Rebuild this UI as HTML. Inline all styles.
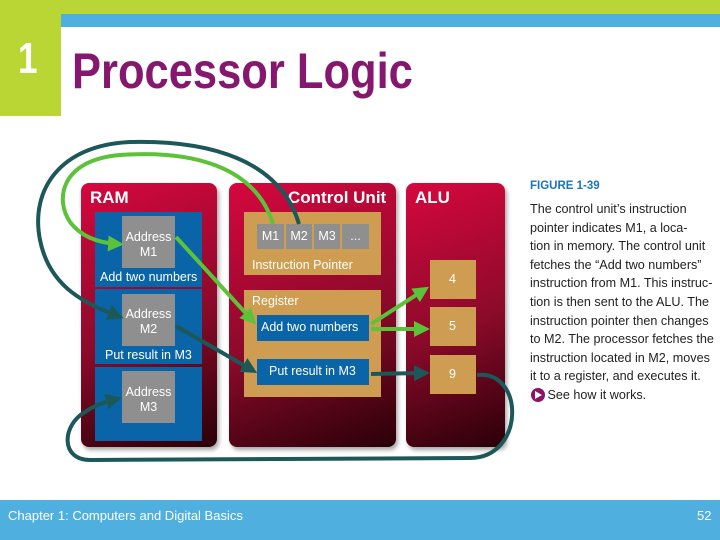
<!DOCTYPE html>
<html><head><meta charset="utf-8"><style>
body{margin:0;width:720px;height:540px;position:relative;background:#fff;font-family:"Liberation Sans",sans-serif;overflow:hidden}
.a{position:absolute}
.col{position:absolute;border-radius:8px;background:linear-gradient(160deg,#d6073e 0%,#8a0a2a 55%,#2a0008 100%);box-shadow:2px 3px 4px rgba(0,0,0,.35)}
.h{position:absolute;color:#fff;font-weight:bold;font-size:17px}
.blue{position:absolute;background:#0a64a8}
.gray{position:absolute;background:#8f8f8f;color:#fff;font-size:12.5px;text-align:center;line-height:15px;box-sizing:border-box}
.gold{position:absolute;background:#cf9d52}
.t{position:absolute;color:#fff;font-size:12.5px;white-space:nowrap}
.txt{position:absolute;left:530px;top:200px;font-size:12.6px;line-height:18.6px;color:#222;white-space:nowrap}
</style></head><body>
<div class="a" style="left:0;top:0;width:720px;height:14px;background:#b9d635"></div>
<div class="a" style="left:61px;top:14px;width:659px;height:13px;background:#4fb0e0"></div>
<div class="a" style="left:0;top:0;width:61px;height:116px;background:#b9d635"></div>
<div class="a" style="left:18px;top:34px;color:#fff;font-size:44px;font-weight:bold;transform:scaleX(0.8);transform-origin:0 0">1</div>
<div class="a" style="left:72px;top:42px;color:#86176e;font-size:50px;font-weight:bold;white-space:nowrap;transform:scaleX(0.87);transform-origin:0 0">Processor Logic</div>

<div class="col" style="left:81px;top:183px;width:136px;height:264px"></div>
<div class="col" style="left:229px;top:183px;width:167px;height:264px"></div>
<div class="col" style="left:406px;top:183px;width:99px;height:264px"></div>
<div class="h" style="left:90px;top:188px">RAM</div>
<div class="h" style="left:288px;top:188px">Control Unit</div>
<div class="h" style="left:415px;top:188px">ALU</div>

<div class="blue" style="left:95px;top:212px;width:107px;height:75px"></div>
<div class="blue" style="left:95px;top:289px;width:107px;height:75px"></div>
<div class="blue" style="left:95px;top:367px;width:107px;height:74px"></div>
<div class="gray" style="left:122px;top:216px;width:53px;height:52px;padding-top:14px">Address<br>M1</div>
<div class="gray" style="left:122px;top:294px;width:53px;height:52px;padding-top:13px">Address<br>M2</div>
<div class="gray" style="left:122px;top:371px;width:53px;height:52px;padding-top:14px">Address<br>M3</div>
<div class="t" style="left:100px;top:270px">Add two numbers</div>
<div class="t" style="left:105px;top:348px">Put result in M3</div>

<div class="gold" style="left:244px;top:212px;width:137px;height:63px"></div>
<div class="gray" style="left:257px;top:224px;width:27px;height:25px;padding-top:5px">M1</div>
<div class="gray" style="left:286px;top:224px;width:26px;height:25px;padding-top:5px">M2</div>
<div class="gray" style="left:314px;top:224px;width:26px;height:25px;padding-top:5px">M3</div>
<div class="gray" style="left:342px;top:224px;width:27px;height:25px;padding-top:5px">...</div>
<div class="t" style="left:252px;top:258px">Instruction Pointer</div>
<div class="gold" style="left:244px;top:290px;width:137px;height:107px"></div>
<div class="t" style="left:252px;top:294px">Register</div>
<div class="blue" style="left:257px;top:315px;width:112px;height:26px"></div>
<div class="t" style="left:261px;top:320px">Add two numbers</div>
<div class="blue" style="left:257px;top:359px;width:112px;height:26px"></div>
<div class="t" style="left:269px;top:364px">Put result in M3</div>

<div class="gold" style="left:430px;top:260px;width:46px;height:39px"></div>
<div class="gold" style="left:430px;top:307px;width:46px;height:39px"></div>
<div class="gold" style="left:430px;top:355px;width:46px;height:39px"></div>
<div class="t" style="left:449px;top:272px">4</div>
<div class="t" style="left:449px;top:319px">5</div>
<div class="t" style="left:449px;top:367px">9</div>

<svg class="a" style="left:0;top:0" width="720" height="540">
<defs>
<marker id="g" markerWidth="4" markerHeight="4" refX="2.5" refY="2" orient="auto"><path d="M0,0L4,2L0,4z" fill="#5cc23a"/></marker>
<marker id="d" markerWidth="4" markerHeight="4" refX="2.5" refY="2" orient="auto"><path d="M0,0L4,2L0,4z" fill="#1d5858"/></marker>
</defs>
<g fill="none" stroke-width="4">
<path d="M299,224 C280,160 210,140 130,142 C60,145 30,190 40,240 C50,290 90,305 118,316" stroke="#1d5858" marker-end="url(#d)"/>
<path d="M273,224 C255,165 190,150 120,155 C60,160 55,200 70,222 C82,238 100,243 118,244" stroke="#5cc23a" marker-end="url(#g)"/>
<path d="M176,237 L252,320" stroke="#5cc23a" marker-end="url(#g)"/>
<path d="M176,326 L252,370" stroke="#1d5858" marker-end="url(#d)"/>
<path d="M371,324 L424,290" stroke="#5cc23a" marker-end="url(#g)"/>
<path d="M371,329 L424,329" stroke="#5cc23a" marker-end="url(#g)"/>
<path d="M371,374 L424,373" stroke="#1d5858" marker-end="url(#d)"/>
<path d="M477,375 C525,370 525,458 470,458 L90,460 C60,460 62,425 85,412 C95,405 105,402 116,399" stroke="#1d5858" marker-end="url(#d)"/>
</g>
<circle cx="538" cy="395" r="7" fill="#8a1466"/><path d="M535,391 L542,395 L535,399z" fill="#fff"/>
</svg>

<div class="a" style="left:530px;top:180px;color:#1b75bb;font-weight:bold;font-size:11.5px">FIGURE 1-39</div>
<div class="txt">The control unit’s instruction<br>pointer indicates M1, a loca-<br>tion in memory. The control unit<br>fetches the “Add two numbers”<br>instruction from M1. This instruc-<br>tion is then sent to the ALU. The<br>instruction pointer then changes<br>to M2. The processor fetches the<br>instruction located in M2, moves<br>it to a register, and executes it.<br>&nbsp;&nbsp;&nbsp;&nbsp;&nbsp;See how it works.</div>

<div class="a" style="left:0;top:500px;width:720px;height:40px;background:#4fb0e0"></div>
<div class="a" style="left:8px;top:508px;color:#fff;font-size:13px">Chapter 1: Computers and Digital Basics</div>
<div class="a" style="left:697px;top:508px;color:#fff;font-size:13px">52</div>
</body></html>
